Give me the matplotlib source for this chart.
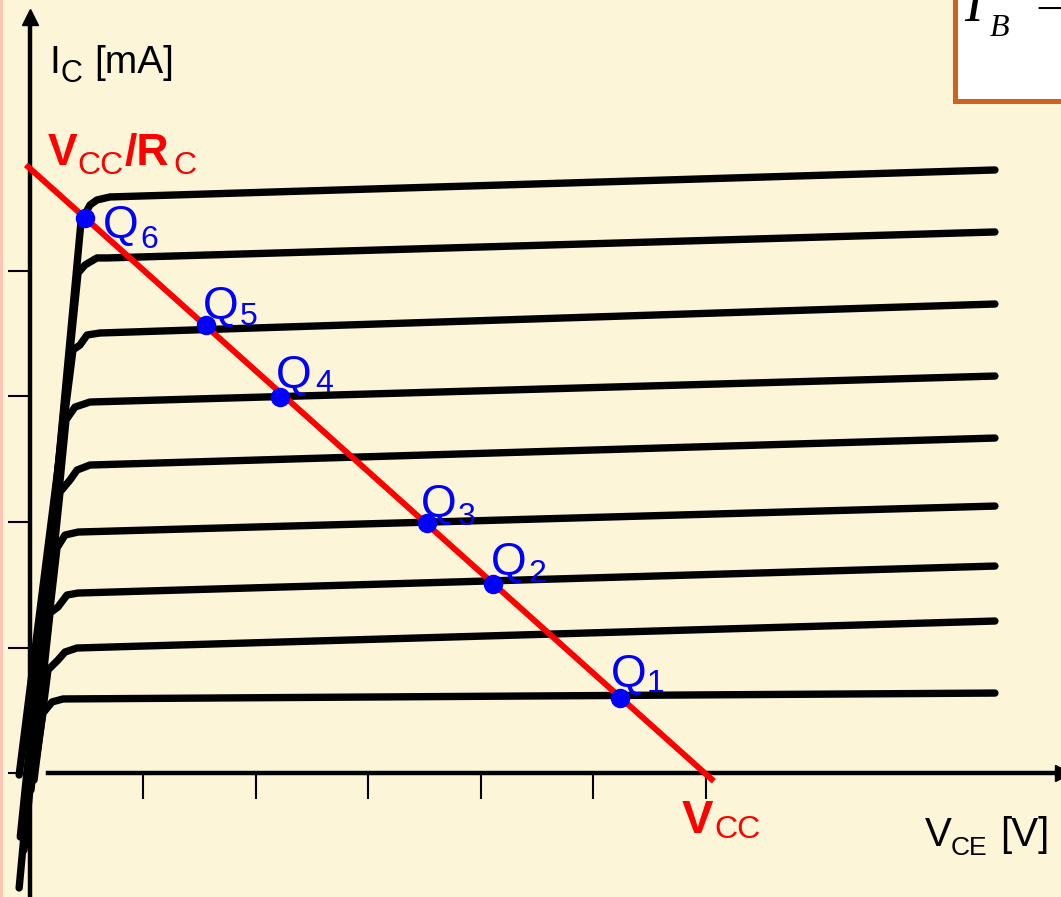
import numpy as np
import matplotlib.pyplot as plt
from matplotlib.patches import Rectangle

W, H = 1061, 897

# output characteristics I_C(V_CE), from the top curve (largest I_B) down
curve_vce = [
    [-0.10, 0.449, 0.529, 0.591, 0.707, 8.566],
    [-0.09, 0.423, 0.485, 0.591, 0.680, 8.566],
    [-0.10, 0.378, 0.440, 0.503, 0.618, 8.566],
    [-0.057, 0.316, 0.396, 0.529, 8.566],
    [-0.039, 0.263, 0.352, 0.414, 0.529, 8.566],
    [-0.021, 0.236, 0.307, 0.423, 8.566],
    [0.005, 0.174, 0.245, 0.325, 0.423, 8.566],
    [0.032, 0.156, 0.245, 0.307, 0.414, 8.566],
    [0.050, 0.112, 0.192, 0.290, 8.566],
]
curve_ic = [
    [-0.916, 4.390, 4.526, 4.566, 4.590, 4.805],
    [-0.510, 3.984, 4.048, 4.104, 4.104, 4.311],
    [-0.016, 3.371, 3.410, 3.490, 3.506, 3.737],
    [-0.614, 2.813, 2.916, 2.956, 3.163],
    [-0.375, 2.239, 2.335, 2.414, 2.454, 2.669],
    [-0.215, 1.793, 1.896, 1.920, 2.127],
    [-0.135, 1.275, 1.323, 1.418, 1.434, 1.649],
    [-0.056, 0.821, 0.900, 0.964, 0.996, 1.211],
    [0.104, 0.478, 0.566, 0.590, 0.637],
]

# load line  (V_CC/R_C  ->  V_CC)
load_vce = [-0.02, 6.05]
load_ic = [4.83, -0.05]

# operating points Q1..Q6
q_names = ['1', '2', '3', '4', '5', '6']
q_vce = [5.236, 4.108, 3.522, 2.217, 1.560, 0.485]
q_ic = [0.598, 1.506, 1.992, 2.996, 3.570, 4.422]

vce_ticks = [1, 2, 3, 4, 5, 6]
ic_ticks = [0, 1, 2, 3, 4]

BG = '#FDF5D8'
FONT = 'Liberation Sans'
RED = '#FF0000'
BLUE = '#0000FF'

fig = plt.figure(figsize=(W / 100, H / 100), dpi=100, facecolor=BG)
ax = fig.add_axes([0, 0, 1, 1])
ax.set_facecolor('none')
ax.set_xlim(-30.4 / 112.6, (W - 30.4) / 112.6)
ax.set_ylim((773 - H) / 125.5, 773 / 125.5)

# pink strip on the left edge
fig.patches.append(Rectangle((0, 0), 3 / W, 1, transform=fig.transFigure,
                             facecolor='#FFC6B6', edgecolor='none', zorder=0))

# axes with arrows
for s in ['top', 'right']:
    ax.spines[s].set_visible(False)
ax.spines['left'].set_position(('data', 0))
ax.spines['bottom'].set_position(('data', 0))
ax.spines['left'].set_linewidth(3.2)
ax.spines['bottom'].set_linewidth(3.2)
ax.spines['left'].set_bounds(-1.0, 6.0)
ax.spines['bottom'].set_bounds(0.156, 9.2)
ax.plot([0], [6.02], marker='^', ms=11, color='k', clip_on=False)
ax.plot([9.17], [0], marker='>', ms=11, color='k', clip_on=False)
ax.set_xticks(vce_ticks)
ax.set_yticks(ic_ticks)
ax.set_xticklabels([])
ax.set_yticklabels([])
ax.tick_params(axis='x', direction='out', length=19, width=1.5)
ax.tick_params(axis='y', direction='out', length=16, width=1.5)

# characteristic curves
for v, i in zip(curve_vce, curve_ic):
    ax.plot(v, i, color='k', lw=5.3, solid_capstyle='round',
            solid_joinstyle='round', zorder=3)

# load line and Q points
ax.plot(load_vce, load_ic, color=RED, lw=4.3, zorder=4)
ax.plot(q_vce, q_ic, 'o', color=BLUE, ms=13, zorder=5)

q_off = [(-7, -11), (0, -9), (-4, -6), (-2, -9), (-1, -6), (20, 20)]
q_sub_off = [(28, -6), (36, -2), (32, 2), (36, -5), (35, 0), (56, 30)]
for n, v, i, o, so in zip(q_names, q_vce, q_ic, q_off, q_sub_off):
    ax.annotate('Q', (v, i), xytext=(o[0] - 2, -o[1]), textcoords='offset pixels',
                fontsize=33, color=BLUE, family=FONT, ha='left', va='baseline', zorder=6)
    ax.annotate(n, (v, i), xytext=(so[0] - 1, -so[1]), textcoords='offset pixels',
                fontsize=23, color=BLUE, family=FONT, ha='left', va='baseline', zorder=6)


def ftext(xp, yp, s, **kw):
    fig.text(xp / W, 1 - yp / H, s, ha='left', va='baseline', **kw)


# axis labels
ftext(49.5, 73, 'I', fontsize=28, family=FONT)
ftext(60.5, 82, 'C', fontsize=22, family=FONT)
ftext(94, 73, '[mA]', fontsize=28, family=FONT)

ftext(925, 846, 'V', fontsize=29, family=FONT)
ftext(951, 855, 'CE', fontsize=19, family=FONT)
ftext(1000, 846, '[V]', fontsize=29, family=FONT)

# red labels
ftext(48, 165, 'V', fontsize=32, family=FONT, weight='bold', color=RED)
ftext(77, 174, 'CC', fontsize=23, family=FONT, color=RED)
ftext(125, 165, '/R', fontsize=32, family=FONT, weight='bold', color=RED)
ftext(173, 174, 'C', fontsize=23, family=FONT, color=RED)

ftext(682, 833, 'V', fontsize=34, family=FONT, weight='bold', color=RED)
ftext(714, 838, 'CC', fontsize=23, family=FONT, color=RED)

# boxed formula in the top right corner (cut by the edge)
fig.patches.append(Rectangle((954.5 / W, 1 - 101 / H), (1080 - 954.5) / W, 120 / H,
                             transform=fig.transFigure, facecolor='white',
                             edgecolor='#D0621F', lw=3.6, zorder=1))
ftext(964, 21, 'I', fontsize=40, family='Liberation Serif', style='italic')
ftext(990, 36, 'B', fontsize=23, family='Liberation Serif', style='italic')
ftext(1035, 21, '=', fontsize=38, family='Liberation Serif')

fig.savefig('out.png', dpi=100, facecolor=BG)
